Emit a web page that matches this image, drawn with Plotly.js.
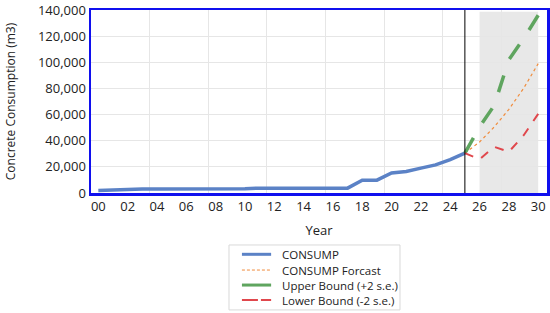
<!DOCTYPE html>
<html>
<head>
<meta charset="utf-8">
<script src="https://cdn.plot.ly/plotly-3.0.1.min.js"></script>
<style>html,body{margin:0;padding:0;background:#fff;}#chart{width:550px;height:313px;}</style>
</head>
<body>
<div id="chart"></div>
<script>
// Historical data (year offsets 0..25 => 2000..2025)
const years = [0,1,2,3,4,5,6,7,8,9,10,11,12,13,14,15,16,17,18,19,20,21,22,23,24,25];
const consump = [2000,2500,3000,3000,3000,3000,3000,3000,3300,3300,3300,3700,3700,3700,3700,3700,3700,3700,9800,9800,15300,16400,19000,21500,25500,30500];

// Forecast period
const fYears = [25,26,27,28,29,30];
const forecast = [30500,39000,50500,64000,80000,99000];
const upper = [30500,50500,67000,102000,118000,136000];
const lower = [30500,25800,35300,31500,44000,60500];

// Series names
const seriesNames = ["CONSUMP", "CONSUMP Forcast", "Upper Bound (+2 s.e.)", "Lower Bound (-2 s.e.)"];

// Tick labels
const tickVals = [0,2,4,6,8,10,12,14,16,18,20,22,24,26,28,30];
const tickText = ["00","02","04","06","08","10","12","14","16","18","20","22","24","26","28","30"];
const forecastStart = 25;
const shadeStart = 26;
const shadeEnd = 30;

const font = "Open Sans, Noto Sans, sans-serif";

const styles = [
  {color: "#5B82C6", width: 3.5, dash: "solid"},
  {color: "#F08C3C", width: 1.2, dash: "dot"},
  {color: "#5FA55F", width: 3.5, dash: "longdash"},
  {color: "#E0474C", width: 2, dash: "dash"}
];
const legendStyles = [
  {color: "#5B82C6", width: 3, dash: "solid"},
  {color: "#F08C3C", width: 1, dash: "3px,2px"},
  {color: "#5FA55F", width: 3, dash: "solid"},
  {color: "#E0474C", width: 2, dash: "16px,3px"}
];

const xs = [years, fYears, fYears, fYears];
const ys = [consump, forecast, upper, lower];

const traces = seriesNames.map((n, i) => ({
  x: xs[i], y: ys[i], name: n, mode: "lines", line: styles[i], showlegend: false
}));

// Custom legend (paper coordinates)
const legTop = -0.284, legBottom = -0.639, legLeft = 0.3026, legRight = 0.6776;
const rowY = [-0.335, -0.421, -0.503, -0.585];
const shapes = [
  {type: "rect", xref: "x", yref: "paper", x0: shadeStart, x1: shadeEnd, y0: 0, y1: 0.99,
   fillcolor: "#e8e8e8", line: {width: 0}, layer: "below"},
  {type: "line", xref: "x", yref: "paper", x0: forecastStart, x1: forecastStart, y0: 0, y1: 1,
   line: {color: "#000", width: 1}},
  {type: "rect", xref: "paper", yref: "paper", x0: legLeft, x1: legRight, y0: legBottom, y1: legTop,
   line: {color: "#d9d9d9", width: 1}, fillcolor: "rgba(0,0,0,0)"}
];
const annotations = [];
seriesNames.forEach((n, i) => {
  shapes.push({type: "line", xref: "paper", yref: "paper", x0: 0.331, x1: 0.395, y0: rowY[i], y1: rowY[i],
               line: legendStyles[i]});
  annotations.push({xref: "paper", yref: "paper", x: 0.415, y: rowY[i], xanchor: "left", yanchor: "middle",
                    text: n, showarrow: false, font: {family: font, size: 11.5, color: "#222"}});
});

const layout = {
  width: 550, height: 313,
  margin: {l: 91, r: 3, t: 10, b: 120, autoexpand: false},
  paper_bgcolor: "#fff", plot_bgcolor: "#fff",
  font: {family: font, size: 12, color: "#222"},
  showlegend: false,
  xaxis: {
    range: [-0.5, 30.6], tickvals: tickVals, ticktext: tickText,
    showgrid: false, zeroline: false,
    showline: true, mirror: true, linecolor: "#1010EE", linewidth: 2.5,
    ticks: "", tickfont: {size: 13, family: font, color: "#222"},
    minor: {tick0: -0.5, dtick: 4, showgrid: true, gridcolor: "#e6e6e6", gridwidth: 1, ticks: ""},
    title: {text: "Year", font: {size: 13, family: font, color: "#222"}, standoff: 12}
  },
  yaxis: {
    range: [0, 140000], dtick: 20000, tickformat: ",d",
    showgrid: true, gridcolor: "#e6e6e6", zeroline: false,
    showline: true, mirror: true, linecolor: "#1010EE", linewidth: 2.5,
    ticks: "", tickfont: {size: 13, family: font, color: "#222"},
    title: {text: "Concrete Consumption (m3)", font: {size: 12, family: font, color: "#222"}, standoff: 20}
  },
  shapes: shapes,
  annotations: annotations
};

Plotly.newPlot("chart", traces, layout, {displayModeBar: false, staticPlot: true});
</script>
</body>
</html>
